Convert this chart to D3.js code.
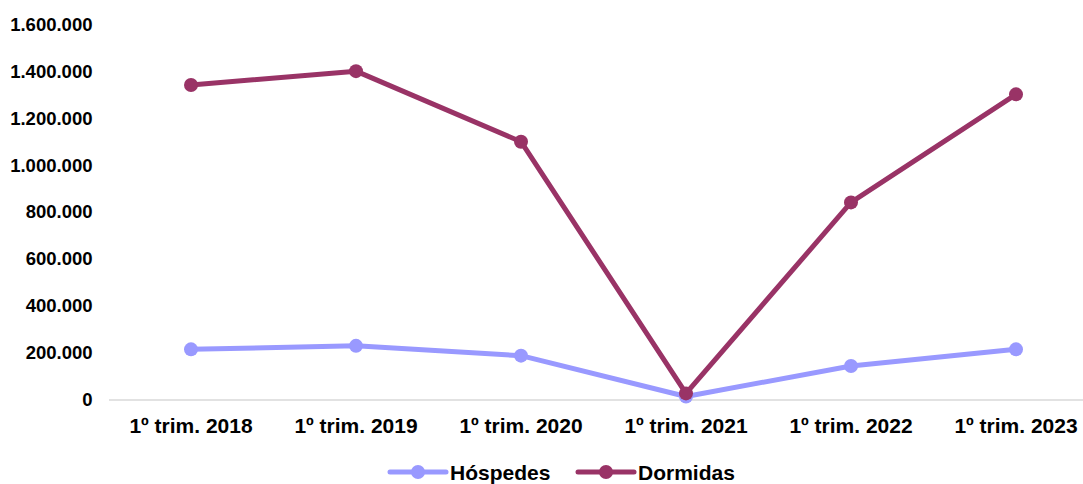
<!DOCTYPE html>
<html>
<head>
<meta charset="utf-8">
<script src="https://cdn.jsdelivr.net/npm/d3@7"></script>
<style>
  body { margin: 0; background: #fff; }
  text { font-family: "Liberation Sans", Arial, sans-serif; font-weight: bold; fill: #000; }
</style>
</head>
<body>
<div id="chart"></div>
<script>
// data
var categories = ["1º trim. 2018", "1º trim. 2019", "1º trim. 2020", "1º trim. 2021", "1º trim. 2022", "1º trim. 2023"]
var hospedes = [214000, 229000, 187000, 13000, 143000, 214000]
var dormidas = [1342000, 1401000, 1100000, 26000, 841000, 1302000]
var yTicks = [0, 200000, 400000, 600000, 800000, 1000000, 1200000, 1400000, 1600000]

var series = [
  {name: "Hóspedes", values: hospedes, color: "#9999ff"},
  {name: "Dormidas", values: dormidas, color: "#993366"}
]

var width = 1083, height = 484
var margin = {top: 24.5, right: -15.5, bottom: 84.5, left: 108.5}

var svg = d3.select("#chart").append("svg")
  .attr("width", width)
  .attr("height", height)

var g = svg.append("g")
  .attr("transform", "translate(" + margin.left + "," + margin.top + ")")

var innerW = width - margin.left - margin.right
var innerH = height - margin.top - margin.bottom

var x = d3.scaleBand().domain(categories).range([0, innerW])
var y = d3.scaleLinear().domain([0, 1600000]).range([innerH, 0])

var fmt = function(v) { return d3.format(",")(v).replace(/,/g, ".") }

// y axis labels only
var yAxis = g.append("g")
  .call(d3.axisLeft(y).tickValues(yTicks).tickFormat(fmt).tickSize(0).tickPadding(16))
yAxis.select(".domain").remove()
yAxis.selectAll("text").style("font-size", "18.5px")

// x axis
var xAxis = g.append("g")
  .attr("transform", "translate(0," + innerH + ")")
  .call(d3.axisBottom(x).tickSize(0).tickPadding(19))
xAxis.select(".domain").attr("stroke", "#d9d9d9").attr("stroke-width", 1.5)
xAxis.selectAll("text").style("font-size", "21px")

var line = d3.line()
  .x(function(d, i) { return x(categories[i]) + x.bandwidth() / 2 })
  .y(function(d) { return y(d) })

series.forEach(function(s) {
  g.append("path")
    .datum(s.values)
    .attr("fill", "none")
    .attr("stroke", s.color)
    .attr("stroke-width", 5)
    .attr("stroke-linejoin", "round")
    .attr("d", line)

  g.selectAll(null)
    .data(s.values)
    .enter().append("circle")
    .attr("cx", function(d, i) { return x(categories[i]) + x.bandwidth() / 2 })
    .attr("cy", function(d) { return y(d) })
    .attr("r", 7)
    .attr("fill", s.color)
})

// legend
var legendX = [390, 578]
series.forEach(function(s, i) {
  var lg = svg.append("g").attr("transform", "translate(" + legendX[i] + ",472)")
  lg.append("line")
    .attr("x1", 0).attr("x2", 56)
    .attr("stroke", s.color).attr("stroke-width", 5).attr("stroke-linecap", "round")
  lg.append("circle").attr("cx", 28).attr("r", 7).attr("fill", s.color)
  lg.append("text")
    .attr("x", 60).attr("y", 8)
    .style("font-size", "21px")
    .text(s.name)
})
</script>
</body>
</html>
